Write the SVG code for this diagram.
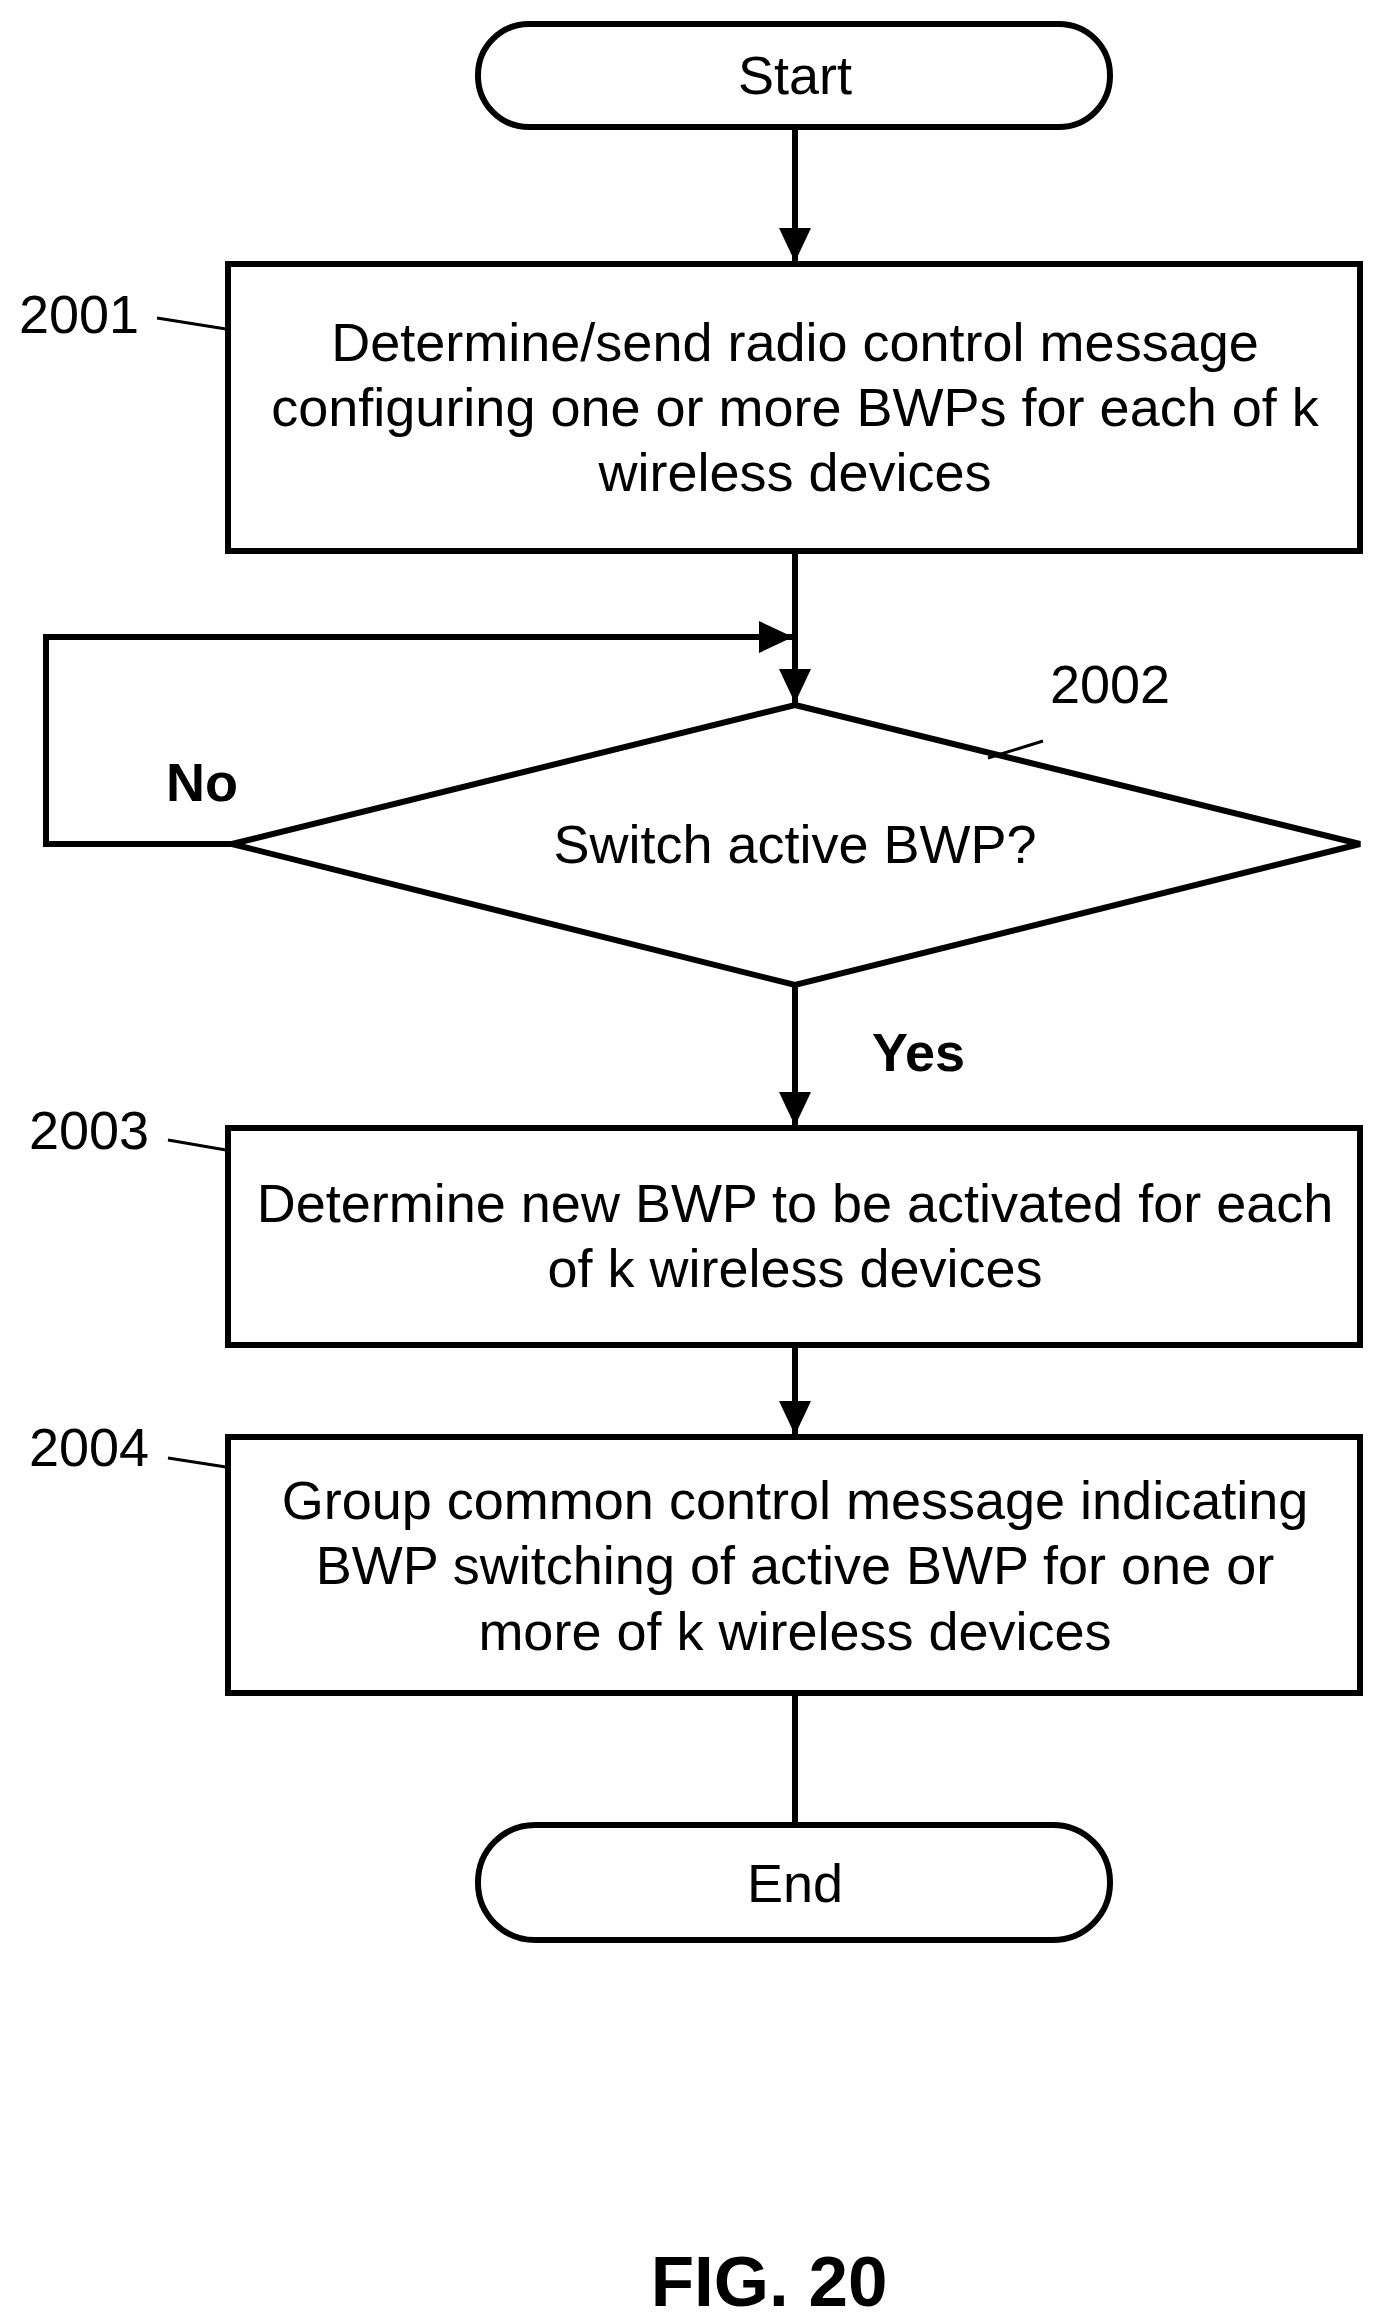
<svg xmlns="http://www.w3.org/2000/svg" width="1381" height="2322" viewBox="0 0 1381 2322">
<style>
.s{fill:#fff;stroke:#000;stroke-width:6}
.c{fill:none;stroke:#000;stroke-width:6}
.l{fill:none;stroke:#000;stroke-width:3}
text{font-family:"Liberation Sans",Arial,sans-serif;font-size:54px;fill:#000}
.m{text-anchor:middle;dominant-baseline:central}
.b{font-weight:bold}
</style>
<defs>
<marker id="ah" markerWidth="36" markerHeight="32" refX="34" refY="16" orient="auto" markerUnits="userSpaceOnUse"><path d="M0,0L34,16L0,32z" fill="#000"/></marker></defs>
<g id="connectors">
<line class="c" x1="795" y1="127" x2="795" y2="262" marker-end="url(#ah)"/>
<line class="c" x1="795" y1="551" x2="795" y2="703" marker-end="url(#ah)"/>
<polyline class="c" points="232,844 46,844 46,637 793,637" marker-end="url(#ah)"/>
<line class="c" x1="795" y1="985" x2="795" y2="1126" marker-end="url(#ah)"/>
<line class="c" x1="795" y1="1345" x2="795" y2="1435" marker-end="url(#ah)"/>
<line class="c" x1="795" y1="1693" x2="795" y2="1825"/>
<text x="166" y="782" class="b" dominant-baseline="central">No</text>
<text x="872" y="1052" class="b" dominant-baseline="central">Yes</text>
</g>
<g id="start"><rect class="s" x="478" y="24" width="632" height="103" rx="51"/><text x="795" y="75" class="m">Start</text></g>
<g id="n2001"><rect class="s" x="228" y="264" width="1132" height="287"/>
<text x="795" y="342" class="m">Determine/send radio control message</text>
<text x="795" y="407" class="m">configuring one or more BWPs for each of k</text>
<text x="795" y="472" class="m">wireless devices</text>
<text x="19" y="314" dominant-baseline="central">2001</text><line class="l" x1="157" y1="318" x2="226" y2="329"/></g>
<g id="n2002"><polygon class="s" points="795,705 1360,844 795,985 232,844"/>
<text x="795" y="844" class="m">Switch active BWP?</text>
<text x="1050" y="684" dominant-baseline="central">2002</text><line class="l" x1="988" y1="758" x2="1043" y2="741"/></g>
<g id="n2003"><rect class="s" x="228" y="1128" width="1132" height="217"/>
<text x="795" y="1203" class="m">Determine new BWP to be activated for each</text>
<text x="795" y="1268" class="m">of k wireless devices</text>
<text x="29" y="1130" dominant-baseline="central">2003</text><line class="l" x1="168" y1="1140" x2="226" y2="1150"/></g>
<g id="n2004"><rect class="s" x="228" y="1437" width="1132" height="256"/>
<text x="795" y="1500" class="m">Group common control message indicating</text>
<text x="795" y="1565" class="m">BWP switching of active BWP for one or</text>
<text x="795" y="1631" class="m">more of k wireless devices</text>
<text x="29" y="1447" dominant-baseline="central">2004</text><line class="l" x1="168" y1="1458" x2="226" y2="1467"/></g>
<g id="end"><rect class="s" x="478" y="1825" width="632" height="115" rx="57"/><text x="795" y="1883" class="m">End</text></g>
<text x="769" y="2281" class="m b" style="font-size:71px">FIG. 20</text>
</svg>
